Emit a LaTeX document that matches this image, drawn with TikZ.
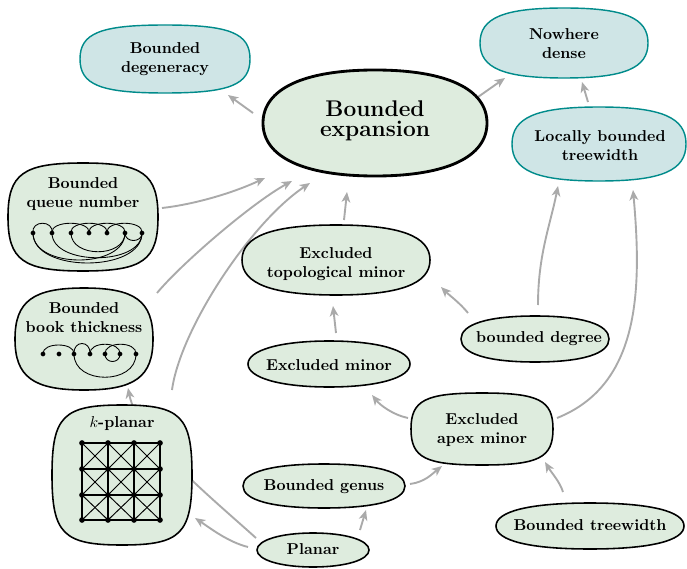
\documentclass[tikz,border=0pt]{standalone}
\usetikzlibrary{arrows.meta}
\definecolor{gfill}{HTML}{DEECDE}
\definecolor{tfill}{HTML}{CFE5E6}
\definecolor{tdraw}{HTML}{008B8B}
\definecolor{agray}{HTML}{AAAAAA}
\pgfdeclarelayer{bg}
\pgfsetlayers{bg,main}
\newcommand\blob[6]{\path[#6] (#1+#3,#2) .. controls (#1+#3,#2+#5*#4) and (#1+#5*#3,#2+#4) .. (#1,#2+#4) .. controls (#1-#5*#3,#2+#4) and (#1-#3,#2+#5*#4) .. (#1-#3,#2) .. controls (#1-#3,#2-#5*#4) and (#1-#5*#3,#2-#4) .. (#1,#2-#4) .. controls (#1+#5*#3,#2-#4) and (#1+#3,#2-#5*#4) .. (#1+#3,#2) -- cycle;}
\tikzset{
  greenblob/.style={fill=gfill, draw=black, line width=1pt},
  tealblob/.style={fill=tfill, draw=tdraw, line width=0.9pt},
  bigblob/.style={fill=gfill, draw=black, line width=1.8pt},
  lbl/.style={font=\bfseries, align=center, inner sep=0pt},
  arr/.style={draw=agray, line width=1.2pt, -{Stealth[length=6.5pt,width=5.5pt,inset=1.8pt]}},
  edge/.style={draw=black, line width=0.55pt},
  dot/.style={fill=black}
}
\begin{document}
\begin{tikzpicture}[x=0.635pt,y=-0.635pt]
\useasboundingbox (0,0) rectangle (687,569);
% blobs
\blob{165}{59}{85}{34}{0.76}{tealblob}
\blob{564}{43}{84}{35}{0.72}{tealblob}
\blob{375}{123}{112}{53}{0.64}{bigblob}
\blob{599}{144}{87}{37}{0.72}{tealblob}
\blob{83}{217}{75}{54}{0.8}{greenblob}
\blob{336}{260}{94}{35}{0.68}{greenblob}
\blob{84}{339}{69}{51}{0.74}{greenblob}
\blob{535}{339}{74}{23}{0.64}{greenblob}
\blob{329}{364}{81}{23}{0.6}{greenblob}
\blob{482}{429}{71}{36}{0.8}{greenblob}
\blob{122}{475}{70}{70}{0.84}{greenblob}
\blob{324}{486}{81}{22}{0.64}{greenblob}
\blob{590}{526}{94}{23}{0.64}{greenblob}
\blob{313}{550}{56}{17}{0.58}{greenblob}
% labels
\node[lbl] (deg) at (165,59) {Bounded\\degeneracy};
\node[lbl] (nd) at (564,44) {Nowhere\\dense};
\node[lbl,font=\Large\bfseries] (be) at (375,121) {Bounded\\[-5pt]expansion};
\node[lbl] (lbt) at (600,146) {Locally bounded\\treewidth};
\node[lbl] (queue) at (83,194) {Bounded\\queue number};
\node[lbl] (etm) at (336,264) {Excluded\\topological minor};
\node[lbl] (book) at (84,318) {Bounded\\book thickness};
\node[lbl] (bdeg) at (539,339) {bounded degree};
\node[lbl] (exm) at (329,365) {Excluded minor};
\node[lbl] (apex) at (482,430) {Excluded\\apex minor};
\node[lbl] (kplanar) at (122,424) {$k$-planar};
\node[lbl] (genus) at (324,487) {Bounded genus};
\node[lbl] (btw) at (590,525) {Bounded treewidth};
\node[lbl] (planar) at (313,549) {Planar};
% queue drawing
\foreach \i/\x in {1/33,2/52,3/71,4/89,5/107,6/125,7/142} \coordinate (q\i) at (\x,233);
\foreach \a/\b in {1/2,2/4,3/5,4/6,5/7}
  \draw[edge] (q\a) .. controls +(-2,-13) and +(2,-13) .. (q\b);
\foreach \a/\b/\h in {1/7/40,1/6/36,2/7/33,3/6/25,6/7/10}
  \draw[edge] (q\a) .. controls +(0,\h) and +(0,\h) .. (q\b);
\foreach \i in {1,...,7} \fill[dot] (q\i) circle (1.5pt);
% book drawing
\foreach \i/\x in {1/43,2/59,3/74,4/90,5/105,6/120,7/136} \coordinate (b\i) at (\x,354);
\foreach \a/\b/\h in {1/3/12,3/4/14,4/6/13,5/7/13}
  \draw[edge] (b\a) .. controls +(-1,-\h) and +(1,-\h) .. (b\b);
\foreach \a/\b/\h in {3/7/31,5/6/10}
  \draw[edge] (b\a) .. controls +(0,\h) and +(0,\h) .. (b\b);
\foreach \i in {1,...,7} \fill[dot] (b\i) circle (1.5pt);
% k-planar grid
\foreach \i/\x in {0/82,1/108,2/134,3/160}
  \foreach \j/\y in {0/443,1/469,2/495,3/520}
    \coordinate (g\i\j) at (\x,\y);
\foreach \k in {0,...,3} {
  \draw[edge,line width=0.7pt] (g0\k) -- (g3\k);
  \draw[edge,line width=0.7pt] (g\k0) -- (g\k3);
}
\foreach \i/\ii in {0/1,1/2,2/3}
  \foreach \j/\jj in {0/1,1/2,2/3} {
    \draw[edge,line width=0.6pt] (g\i\j) -- (g\ii\jj);
    \draw[edge,line width=0.6pt] (g\ii\j) -- (g\i\jj);
  }
\foreach \i in {0,...,3} \foreach \j in {0,...,3} \fill[dot] (g\i\j) circle (1.8pt);
% connectors
\begin{pgfonlayer}{bg}
\draw[arr] ([shift={(-122,-8)}]be.center) -- ([shift={(63,36)}]deg.center);
\draw[arr] ([shift={(103,-24)}]be.center) -- ([shift={(-59,34)}]nd.center);
\draw[arr] ([shift={(-12,-44)}]lbt.center) -- ([shift={(18,38)}]nd.center);
\draw[arr] ([shift={(79,14)}]queue.center) .. controls +(35,-4) and +(-30,14) .. ([shift={(-110,57)}]be.center);
\draw[arr] ([shift={(73,-25)}]book.center) .. controls +(25,-30) and +(-40,22) .. ([shift={(-83,60)}]be.center);
\draw[arr] ([shift={(50,-34)}]kplanar.center) .. controls +(8,-60) and +(-60,40) .. ([shift={(-65,62)}]be.center);
\draw[arr] ([shift={(8,-44)}]etm.center) -- ([shift={(-28,71)}]be.center);
\draw[arr] ([shift={(-71,-26)}]bdeg.center) .. controls +(-8,-10) and +(8,8) .. ([shift={(105,23)}]etm.center);
\draw[arr] ([shift={(-1,-34)}]bdeg.center) .. controls +(0,-50) and +(-8,40) .. ([shift={(-42,40)}]lbt.center);
\draw[arr] ([shift={(7,-32)}]exm.center) -- ([shift={(-3,42)}]etm.center);
\draw[arr] ([shift={(-74,-12)}]apex.center) .. controls +(-15,-3) and +(8,10) .. ([shift={(43,30)}]exm.center);
\draw[arr] ([shift={(75,-12)}]apex.center) .. controls +(83,-33) and +(9,100) .. ([shift={(33,44)}]lbt.center);
\draw[arr] ([shift={(-27,-33)}]btw.center) .. controls +(-3,-10) and +(6,10) .. ([shift={(63,32)}]apex.center);
\draw[arr] ([shift={(86,-3)}]genus.center) .. controls +(15,-2) and +(-10,8) .. ([shift={(-40,36)}]apex.center);
\draw[arr] ([shift={(47,-19)}]planar.center) -- ([shift={(42,23)}]genus.center);
\draw[arr] ([shift={(-65,-2)}]planar.center) .. controls +(-20,-5) and +(15,10) .. ([shift={(73,94)}]kplanar.center);
\draw[arr] ([shift={(-57,-11)}]planar.center) .. controls +(-50,-45) and +(10,50) .. ([shift={(44,70)}]book.center);
\end{pgfonlayer}
\end{tikzpicture}
\end{document}
